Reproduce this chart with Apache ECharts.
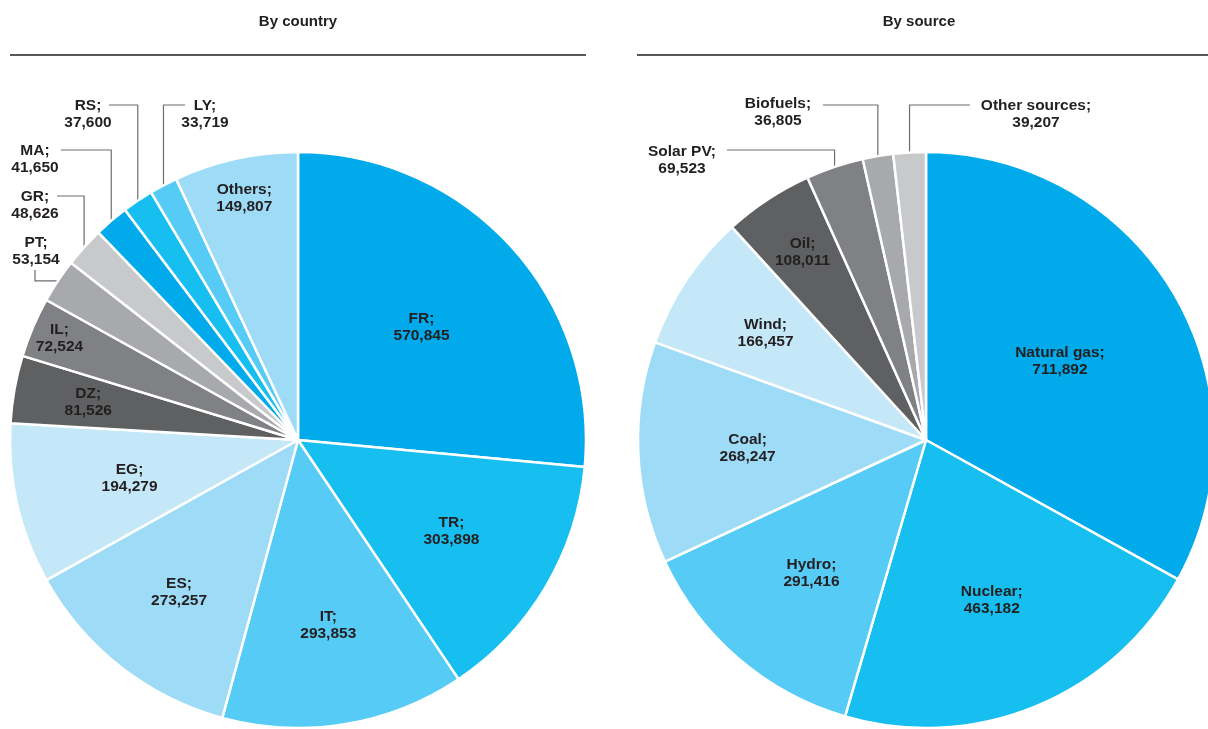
<!DOCTYPE html>
<html><head><meta charset="utf-8">
<script src="https://cdn.jsdelivr.net/npm/echarts@6/dist/echarts.min.js"></script>
<style>html,body{margin:0;padding:0;background:#fff}#c{width:1208px;height:729px}</style>
</head><body><div id="c"></div>
<script>
// ---- data ----
const countryNames = ['FR','TR','IT','ES','EG','DZ','IL','PT','GR','MA','RS','LY','Others'];
const countryValues = [570845,303898,293853,273257,194279,81526,72524,53154,48626,41650,37600,33719,149807];
const sourceNames = ['Natural gas','Nuclear','Hydro','Coal','Wind','Oil','Solar PV','Biofuels','Other sources'];
const sourceValues = [711892,463182,291416,268247,166457,108011,69523,36805,39207];
const titles = ['By country','By source'];

// ---- styles / layout ----
const FONT = '"Liberation Sans", Arial, Helvetica, sans-serif';
const TXT = '#231F20';
const countryColors = ['#00AAEB','#16BFF0','#56CBF5','#9DDBF7','#C5E8F8','#5F6062','#808184','#A8A9AC','#C8C9CB','#00AAEB','#16BFF0','#56CBF5','#9DDBF7'];
const sourceColors = ['#00AAEB','#16BFF0','#56CBF5','#9DDBF7','#C5E8F8','#5F6062','#808184','#A8A9AC','#C8C9CB'];
const countryLabelR = [0.58,0.62,0.65,0.67,0.60,0.74,0.90,null,null,null,null,null,0.86];
const sourceLabelR = [0.54,0.60,0.61,0.62,0.67,0.78,null,null,null];
const countryOutside = {
  7: {lx:36, ly:251, kind:'down', ex:35, ey:270},
  8: {lx:35, ly:205, hy:196, ex:57},
  9: {lx:35, ly:159, hy:150, ex:61},
  10:{lx:88, ly:114, hy:105, ex:109},
  11:{lx:205, ly:114, hy:105, ex:185}
};
const sourceOutside = {
  6: {lx:682, ly:160, hy:150, ex:727},
  7: {lx:778, ly:112, hy:105, ex:823},
  8: {lx:1036, ly:114, hy:105, ex:970}
};
const pies = [
  {names: countryNames, values: countryValues, colors: countryColors, labelR: countryLabelR, outside: countryOutside, cx: 298, cy: 440, r: 288, tx: 298},
  {names: sourceNames, values: sourceValues, colors: sourceColors, labelR: sourceLabelR, outside: sourceOutside, cx: 926, cy: 440, r: 288, tx: 919}
];

function midPoint(p, i, rho) {
  const total = p.values.reduce((a, b) => a + b, 0);
  let cum = 0;
  for (let k = 0; k < i; k++) cum += p.values[k];
  const th = 2 * Math.PI * (cum + p.values[i] / 2) / total;
  return [p.cx + rho * Math.sin(th), p.cy - rho * Math.cos(th)];
}

const chart = echarts.init(document.getElementById('c'), null, {renderer: 'canvas'});

const series = pies.map((p, si) => ({
  type: 'pie',
  center: [p.cx, p.cy],
  radius: [0, p.r],
  startAngle: 90,
  clockwise: true,
  avoidLabelOverlap: false,
  silent: true,
  animation: false,
  itemStyle: {borderColor: '#fff', borderWidth: 2.5},
  label: {
    color: TXT, fontFamily: FONT, fontWeight: 'bold', fontSize: 15.5, lineHeight: 17, align: 'center',
    formatter: (d) => d.name + ';\n' + d.value.toLocaleString('en-US')
  },
  labelLine: {lineStyle: {color: '#6D6E71', width: 1.2}},
  labelLayout: (params) => {
    const i = params.dataIndex;
    const o = p.outside[i];
    if (o) {
      const a = midPoint(p, i, p.r);
      let pts;
      if (o.kind === 'down') pts = [a, [o.ex, a[1]], [o.ex, o.ey]];
      else pts = [a, [a[0], o.hy], [o.ex, o.hy]];
      return {x: o.lx, y: o.ly, align: 'center', verticalAlign: 'middle', labelLinePoints: pts};
    }
    const c = midPoint(p, i, p.r * p.labelR[i]);
    return {x: c[0], y: c[1], align: 'center', verticalAlign: 'middle'};
  },
  data: p.names.map((n, i) => ({
    name: n,
    value: p.values[i],
    itemStyle: {color: p.colors[i]},
    label: {position: p.outside[i] ? 'outside' : 'inside'},
    labelLine: {show: !!p.outside[i], length: 10, length2: 10}
  }))
}));

const graphic = [];
pies.forEach((p, si) => {
  graphic.push({type: 'text', x: p.tx, y: 22, style: {text: titles[si], fill: TXT, font: 'bold 15px ' + FONT, textAlign: 'center', textVerticalAlign: 'middle'}});
});
graphic.push({type: 'line', shape: {x1: 10, y1: 55, x2: 586, y2: 55}, style: {stroke: TXT, lineWidth: 1.3}});
graphic.push({type: 'line', shape: {x1: 637, y1: 55, x2: 1208, y2: 55}, style: {stroke: TXT, lineWidth: 1.3}});

chart.setOption({animation: false, series: series, graphic: graphic});
</script>
</body></html>
